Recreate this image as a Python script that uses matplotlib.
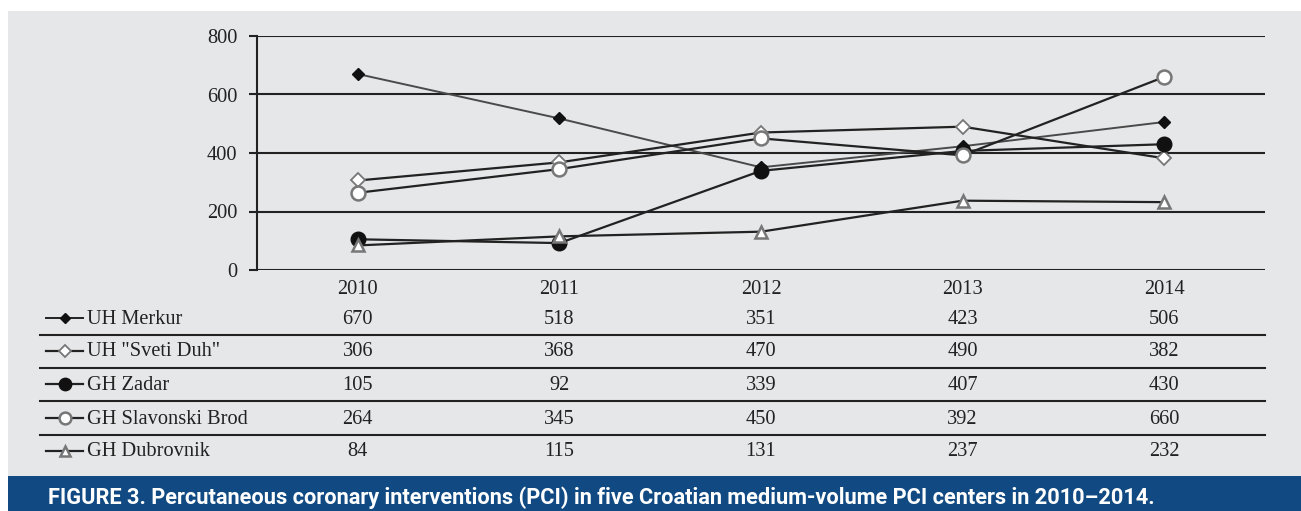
import matplotlib.pyplot as plt
from matplotlib.lines import Line2D
from matplotlib.patches import Rectangle
from matplotlib.transforms import blended_transform_factory

# data
years = ["2010", "2011", "2012", "2013", "2014"]
merkur = [670, 518, 351, 423, 506]
sveti_duh = [306, 368, 470, 490, 382]
zadar = [105, 92, 339, 407, 430]
slavonski_brod = [264, 345, 450, 392, 660]
dubrovnik = [84, 115, 131, 237, 232]
names = ["UH Merkur", 'UH "Sveti Duh"', "GH Zadar", "GH Slavonski Brod", "GH Dubrovnik"]
caption = ("FIGURE 3. Percutaneous coronary interventions (PCI) in five Croatian "
           "medium-volume PCI centers in 2010\u20132014.")

W, H = 1301, 511
BG = "#e6e7e9"
fig = plt.figure(figsize=(W / 100, H / 100), dpi=100)
fig.patch.set_facecolor("white")

# grey panel and blue caption bar (behind the axes)
fig.patches.append(Rectangle((8 / W, 0), 1 - 8 / W, 1 - 11 / H, transform=fig.transFigure,
                             facecolor=BG, edgecolor="none", zorder=-2))
fig.patches.append(Rectangle((8 / W, 0), 1 - 8 / W, 35 / H, transform=fig.transFigure,
                             facecolor="#114a82", edgecolor="none", zorder=-1))

ax = fig.add_axes([257 / W, 1 - 270 / H, (1265 - 257) / W, (270 - 36) / H])
ax.set_facecolor("none")

serif = "Liberation Serif"
styles = [
    dict(color="#4a4a4a", lw=1.4, marker="D", ms=6.5, mfc="#111111", mec="#111111"),
    dict(color="#222222", lw=1.6, marker="D", ms=7, mfc="white", mec="#777777", mew=1.3),
    dict(color="#222222", lw=1.6, marker="o", ms=10.5, mfc="#111111", mec="#111111"),
    dict(color="#222222", lw=1.6, marker="o", ms=10, mfc="white", mec="#777777", mew=1.8),
    dict(color="#222222", lw=1.6, marker="^", ms=8.5, mfc="white", mec="#777777", mew=1.8),
]
series = [merkur, sveti_duh, zadar, slavonski_brod, dubrovnik]
x = list(range(len(years)))
for vals, st in zip(series, styles):
    ax.plot(x, vals, zorder=3, **st)

ax.set_xlim(-0.5, len(years) - 0.5)
ax.set_ylim(0, 800)
ax.set_yticks([0, 200, 400, 600, 800])
ax.yaxis.grid(True, color="#222222", lw=1.5)
ax.set_axisbelow(True)
for s in ["top", "right", "bottom"]:
    ax.spines[s].set_visible(False)
ax.spines["left"].set_color("#222222")
ax.spines["left"].set_linewidth(1.5)
ax.tick_params(axis="y", length=6, width=1.5, color="#222222", pad=8,
               labelsize=14.7, labelcolor="#222222")
ax.tick_params(axis="x", length=0, pad=7, labelsize=14.7, labelcolor="#222222")
ax.set_xticks(x)
ax.set_xticklabels(years)
for lab in ax.get_xticklabels() + ax.get_yticklabels():
    lab.set_fontfamily(serif)

# data table under the chart
tr = blended_transform_factory(ax.transData, fig.transFigure)
row_y = [319, 352, 385, 419, 452]
sep_y = [335, 368, 401, 435]
for ry, name, vals, st in zip(row_y, names, series, styles):
    yf = 1 - ry / H
    for xi, v in zip(x, vals):
        fig.text(xi, yf, str(v), transform=tr, ha="center", va="center",
                 fontsize=14.7, family=serif, color="#222222")
    fig.text(87 / W, yf, name, ha="left", va="center", fontsize=14.7,
             family=serif, color="#222222")
    key = dict(st)
    key["color"] = "#222222"
    key["ms"] = key["ms"] * 0.85
    yk = 1 - (ry - 1) / H
    fig.lines.append(Line2D([46 / W, 65 / W, 83 / W], [yk, yk, yk], transform=fig.transFigure,
                            markevery=[1], **key))
for sy in sep_y:
    fig.lines.append(Line2D([40 / W, 1265 / W], [1 - sy / H] * 2, transform=fig.transFigure,
                            color="#222222", lw=1.5))

fig.text(48 / W, 1 - 498 / H, caption, ha="left", va="center", color="white",
         fontsize=15.7, family="Roboto", weight="bold")

fig.savefig("out.png", dpi=100, facecolor=fig.get_facecolor())
